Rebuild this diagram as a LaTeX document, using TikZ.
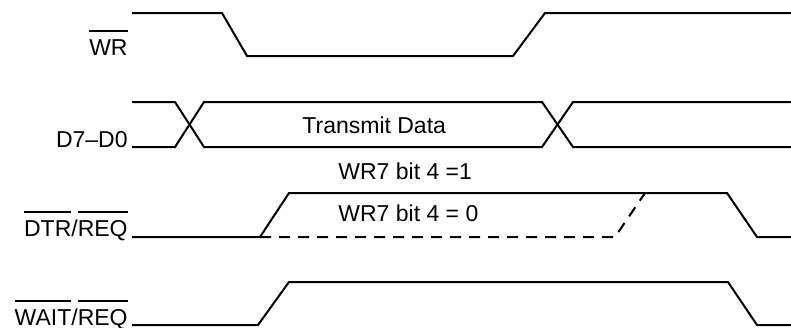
\documentclass[tikz,border=0pt]{standalone}
\usepackage{fontspec}
\setmainfont{Liberation Sans}
\newcommand{\olx}[1]{\leavevmode\vbox{\hrule height 0.8pt\kern 3.6pt\hbox{#1}}}
\begin{document}
\begin{tikzpicture}[x=0.5pt,y=-0.5pt,
  sig/.style={line width=1pt, line join=miter},
  dsig/.style={line width=1pt, dash pattern=on 5.5pt off 4pt},
  lab/.style={anchor=base east, inner sep=0pt, font=\fontsize{11.5}{13}\selectfont},
  txt/.style={anchor=base west, inner sep=0pt, font=\fontsize{11.5}{13}\selectfont}]
\useasboundingbox (0,0) rectangle (791,327);
% WR
\draw[sig] (132,13) -- (222,13) -- (247,56) -- (513,56) -- (545,13) -- (791,13);
\node[lab] (lwr) at (128,55) {\olx{WR}};
% D7-D0
\draw[sig] (132,102) -- (175,102) -- (204,147) -- (542,147) -- (573,102) -- (791,102);
\draw[sig] (132,147) -- (175,147) -- (204,102) -- (542,102) -- (573,147) -- (791,147);
\node[lab] (ld) at (128,147.5) {D7--D0};
\node[txt] (ltd) at (302,133) {Transmit Data};
% DTR/REQ
\draw[sig] (132,237) -- (260,237) -- (289,193) -- (727,193) -- (757,237) -- (791,237);
\draw[dsig] (260,237) -- (615,237) -- (645,193);
\node[lab] (ldtr) at (128,236) {\olx{DTR}/\olx{REQ}};
\node[txt] (lb1) at (338,179.5) {WR7 bit 4 =1};
\node[txt] (lb0) at (338,221.5) {WR7 bit 4 = 0};
% WAIT/REQ
\draw[sig] (132,325) -- (258,325) -- (289,282) -- (728,282) -- (757,325) -- (791,325);
\node[lab] (lwait) at (128,325) {\olx{WAIT}/\olx{REQ}};
\end{tikzpicture}
\end{document}
